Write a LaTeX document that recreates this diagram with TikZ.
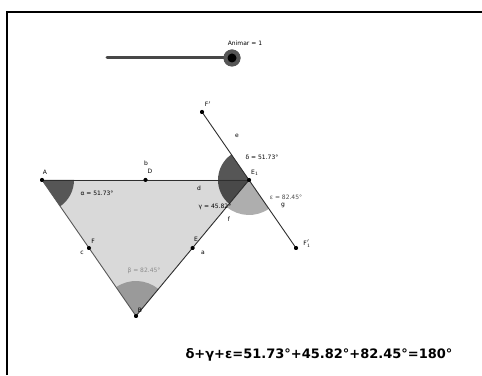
\documentclass[tikz,border=0pt]{standalone}
\usepackage{fontspec}
\setmainfont{DejaVu Sans}
\usepackage{xcolor}
\usetikzlibrary{positioning,angles}

\definecolor{darksec}{HTML}{565656}
\definecolor{midsec}{HTML}{9A9A9A}
\definecolor{lightsec}{HTML}{AEAEAE}
\definecolor{trifill}{HTML}{D9D9D9}
\definecolor{edge}{HTML}{2E2E2E}

\begin{document}
\begin{tikzpicture}[x=1pt, y=1pt,
  pt/.style={circle, fill=black, inner sep=0pt, minimum size=4pt},
  lbl/.style={font=\fontsize{6}{7}\selectfont, inner sep=0pt},
  anglbl/.style={lbl},
  sec/.style={draw=none, angle radius=#1},
  side/.style={draw=edge, line width=0.9pt},
]
\useasboundingbox (0,0) rectangle (482,375);
\draw[line width=1.2pt] (7,0) -- (7,363) -- (482,363);

% slider
\coordinate (s0) at (107,317);
\node[circle, fill=darksec, inner sep=0pt, minimum size=17pt] (knob) at (232,317) {};
\draw[line width=3pt, black!72, line cap=round] (s0) -- (knob.center);
\node[circle, fill=darksec, inner sep=0pt, minimum size=17pt] at (knob) {};
\node[circle, fill=black, inner sep=0pt, minimum size=9pt] at (knob) {};
\node[lbl] (anim) at (245,332) {Animar = 1};

% points
\node[pt] (A) at (42,195) {};
\node[pt] (E1) at (249,195) {};
\node[pt] (B) at (136,59) {};
\node[pt] (D) at (145.5,195) {};
\node[pt] (F) at (89,127) {};
\node[pt] (E) at (192.5,127) {};
\node[pt] (Fp) at (202,263) {};
\node[pt] (Fp1) at (296,127) {};

% triangle and angles
\fill[trifill] (A.center) -- (E1.center) -- (B.center) -- cycle;
\pic[sec=32pt, fill=darksec] {angle=B--A--E1};
\pic[sec=35pt, fill=midsec] {angle=E1--B--A};
\pic[sec=35pt, fill=lightsec] {angle=B--E1--Fp1};
\pic[sec=31pt, fill=darksec] {angle=Fp--E1--A};
\pic[sec=31pt, fill=darksec!85!black] {angle=A--E1--B};

\draw[side] (A.center) -- (E1.center);
\draw[side, draw=edge!80] (A.center) -- (B.center);
\draw[side] (B.center) -- (E1.center);
\draw[side] (Fp.center) -- (Fp1.center);
\foreach \p in {A,E1,B,D,F,E,Fp,Fp1} \node[pt] at (\p) {};

% names
\node[lbl] at (45,203) {A};
\node[lbl] at (146,212) {b};
\node[lbl] at (150,204) {D};
\node[lbl] at (255,202) {E$_1$};
\node[lbl] at (140,65) {B};
\node[lbl] at (93,134) {F};
\node[lbl] at (82,122) {c};
\node[lbl] at (196,136) {E};
\node[lbl] at (203,122) {a};
\node[lbl] at (208,271) {F$'$};
\node[lbl] at (307,131) {F$'_1$};
\node[lbl] at (237,239) {e};
\node[lbl] at (283,170) {g};
\node[lbl] at (199,187) {d};
\node[lbl] at (229,156) {f};

% angle values
\node[anglbl] at (97,182) {α = 51.73°};
\node[anglbl] at (215,168) {γ = 45.82°};
\node[anglbl] at (262,218) {δ = 51.73°};
\node[anglbl, text=black!70] at (286,178) {ε = 82.45°};
\node[anglbl, text=black!45] at (144,104) {β = 82.45°};

\node[font=\fontsize{13}{15}\bfseries\selectfont, inner sep=0pt] (sum) at (319,20)
  {δ+γ+ε=51.73°+45.82°+82.45°=180°};
\end{tikzpicture}
\end{document}
